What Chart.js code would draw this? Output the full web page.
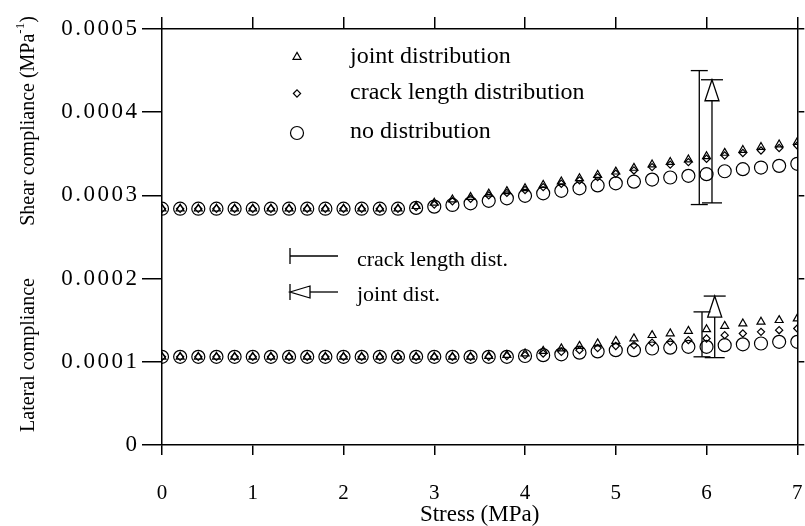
<!DOCTYPE html>
<html><head><meta charset="utf-8">
<script src="https://cdn.jsdelivr.net/npm/chart.js@4"></script>
<style>html,body{margin:0;padding:0;background:#fff}#wrap{width:805px;height:526px}</style>
</head><body><div id="wrap"><canvas id="c" width="805" height="526"></canvas></div>
<script>
// ---- data ----
const stress = [0,0.2,0.4,0.6,0.8,1,1.2,1.4,1.6,1.8,2,2.2,2.4,2.6,2.8,3,3.2,3.4,3.6,3.8,4,4.2,4.4,4.6,4.8,5,5.2,5.4,5.6,5.8,6,6.2,6.4,6.6,6.8,7];
const shearJoint = [0.000284,0.000284,0.000284,0.000284,0.000284,0.000284,0.000284,0.000284,0.000284,0.000284,0.000284,0.000284,0.000284,0.000284,
  0.000287,0.000291,0.000295,0.000298,0.000302,0.000305,0.0003085,0.0003125,0.0003165,0.0003205,0.0003245,0.0003285,0.000333,0.000337,0.00034,0.000343,0.000347,0.000351,0.0003545,0.000358,0.000361,0.000364];
const shearCrack = [0.000284,0.000284,0.000284,0.000284,0.000284,0.000284,0.000284,0.000284,0.000284,0.000284,0.000284,0.000284,0.000284,0.000284,
  0.000286,0.000289,0.000293,0.000296,0.0003,0.000303,0.0003065,0.00031,0.000314,0.000318,0.000322,0.000326,0.00033,0.000334,0.000337,0.00034,0.000344,0.000348,0.000351,0.000354,0.000357,0.00036];
const shearNone = [0.000284,0.000284,0.000284,0.000284,0.000284,0.000284,0.000284,0.000284,0.000284,0.000284,0.000284,0.000284,0.000284,0.000284,
  0.000285,0.0002865,0.0002885,0.0002905,0.0002935,0.0002965,0.0002995,0.0003025,0.0003055,0.0003085,0.000312,0.0003145,0.0003165,0.000319,0.0003215,0.0003235,0.0003255,0.000329,0.0003315,0.0003335,0.0003355,0.000338];
const latJoint = [0.000106,0.000106,0.000106,0.000106,0.000106,0.000106,0.000106,0.000106,0.000106,0.000106,0.000106,0.000106,0.000106,0.000106,0.000106,0.000106,0.000106,0.000106,
  0.000107,0.000108,0.00011,0.000113,0.000116,0.000119,0.000122,0.000125,0.000128,0.000132,0.000134,0.000137,0.000139,0.000143,0.000146,0.000148,0.00015,0.000152];
const latCrack = [0.000106,0.000106,0.000106,0.000106,0.000106,0.000106,0.000106,0.000106,0.000106,0.000106,0.000106,0.000106,0.000106,0.000106,0.000106,0.000106,0.000106,0.000106,0.000106,
  0.000107,0.000108,0.00011,0.000112,0.000114,0.0001165,0.000119,0.00012,0.000123,0.000124,0.000126,0.000128,0.000132,0.000134,0.000136,0.000138,0.00014];
const latNone = [0.000106,0.000106,0.000106,0.000106,0.000106,0.000106,0.000106,0.000106,0.000106,0.000106,0.000106,0.000106,0.000106,0.000106,0.000106,0.000106,0.000106,0.000106,0.000106,0.000106,
  0.000107,0.000108,0.000109,0.000111,0.0001125,0.000114,0.000114,0.000116,0.000117,0.000118,0.000118,0.00012,0.000121,0.000122,0.000124,0.000124];
const xTicks = [0,1,2,3,4,5,6,7];
const yTicks = [0,0.0001,0.0002,0.0003,0.0004,0.0005];
const yTickLabels = ['0','0.0001','0.0002','0.0003','0.0004','0.0005'];
const legendLabels = ['joint distribution','crack length distribution','no distribution'];
const rangeLabels = ['crack length dist.','joint dist.'];
const rangeX = [5.92, 6.06, 5.95, 6.09];
const rangeLow = [0.000289, 0.000291, 0.000106, 0.000105];
const rangeHigh = [0.000450, 0.000439, 0.000160, 0.000179];
const rangeKind = ['crack','joint','crack','joint'];
const yTitleShear = 'Shear compliance (MPa';
const yTitleLateral = 'Lateral compliance';
const xTitle = 'Stress (MPa)';

// ---- chart ----
const SERIF = "'Liberation Serif', 'Times New Roman', serif";
Chart.defaults.font.family = SERIF;
Chart.defaults.color = '#000';

function pts(arr){ return stress.map((x,i)=>({x:x, y:arr[i]})); }
function ds(label, arr, style, r){
  return {label, data: pts(arr), pointStyle: style, pointRadius: r, pointHoverRadius: r,
    borderColor:'#000', backgroundColor:'rgba(0,0,0,0)', pointBorderWidth:1.2, borderWidth:1.2, showLine:false};
}
const STYLES = {joint:['triangle',4.6], crack:['rectRot',3.6], none:['circle',6.5]};

function capH(ctx, x, y, half){ ctx.beginPath(); ctx.moveTo(x-half, y); ctx.lineTo(x+half, y); ctx.stroke(); }

const annot = {
  id:'annot',
  afterDatasetsDraw(chart){
    const ctx = chart.ctx, xs = chart.scales.x, ys = chart.scales.y;
    ctx.save();
    ctx.strokeStyle = '#000'; ctx.fillStyle = '#000'; ctx.lineWidth = 1.3;
    // range bars
    for (let i=0;i<rangeX.length;i++){
      const px = xs.getPixelForValue(rangeX[i]);
      const pt = ys.getPixelForValue(rangeHigh[i]);
      const pb = ys.getPixelForValue(rangeLow[i]);
      if (rangeKind[i]==='crack'){
        ctx.beginPath(); ctx.moveTo(px, pt); ctx.lineTo(px, pb); ctx.stroke();
        capH(ctx, px, pt, 8.5); capH(ctx, px, pb, 8.5);
      } else {
        capH(ctx, px, pt, 11); capH(ctx, px, pb, 10);
        ctx.beginPath(); ctx.moveTo(px, pt); ctx.lineTo(px-7, pt+21); ctx.lineTo(px+7, pt+21); ctx.closePath(); ctx.stroke();
        ctx.beginPath(); ctx.moveTo(px, pt+21); ctx.lineTo(px, pb); ctx.stroke();
      }
    }
    // upper legend
    const lx = 297, tx = 350;
    const ly = [57, 93.5, 133], tyb = [63, 99, 138];
    const order = ['joint','crack','none'];
    ctx.lineWidth = 1.2;
    ctx.fillStyle = 'rgba(0,0,0,0)';
    for (let i=0;i<3;i++){
      const st = STYLES[order[i]];
      Chart.helpers.drawPoint(ctx, {pointStyle: st[0], radius: st[1], borderWidth:1.2}, lx, ly[i]);
    }
    ctx.fillStyle = '#000';
    ctx.font = '24px ' + SERIF; ctx.textBaseline = 'alphabetic'; ctx.textAlign = 'left';
    for (let i=0;i<3;i++) ctx.fillText(legendLabels[i], tx, tyb[i]);
    // range legend
    ctx.lineWidth = 1.3;
    const sx = 290, ex = 338;
    const y1 = 256;
    ctx.beginPath(); ctx.moveTo(sx, y1-8); ctx.lineTo(sx, y1+8); ctx.stroke();
    ctx.beginPath(); ctx.moveTo(sx, y1); ctx.lineTo(ex, y1); ctx.stroke();
    const y2 = 292;
    ctx.beginPath(); ctx.moveTo(sx, y2-8); ctx.lineTo(sx, y2+8); ctx.stroke();
    ctx.beginPath(); ctx.moveTo(sx, y2); ctx.lineTo(sx+20, y2-6); ctx.lineTo(sx+20, y2+6); ctx.closePath(); ctx.stroke();
    ctx.beginPath(); ctx.moveTo(sx+20, y2); ctx.lineTo(ex, y2); ctx.stroke();
    ctx.font = '22px ' + SERIF;
    ctx.fillText(rangeLabels[0], 357, 266);
    ctx.fillText(rangeLabels[1], 357, 301);
    // y titles
    const f1 = '20px ' + SERIF, f2 = '13px ' + SERIF;
    ctx.save();
    ctx.translate(29, 121); ctx.rotate(-Math.PI/2);
    ctx.textBaseline = 'middle'; ctx.textAlign = 'left';
    ctx.font = f1; const w1 = ctx.measureText(yTitleShear).width; const w3 = ctx.measureText(')').width;
    ctx.font = f2; const w2 = ctx.measureText('-1').width;
    const x0 = -(w1+w2+w3)/2;
    ctx.font = f1; ctx.fillText(yTitleShear, x0, 0);
    ctx.font = f2; ctx.fillText('-1', x0+w1, -8);
    ctx.font = f1; ctx.fillText(')', x0+w1+w2, 0);
    ctx.restore();
    ctx.save();
    ctx.translate(29, 355); ctx.rotate(-Math.PI/2);
    ctx.textBaseline = 'middle'; ctx.textAlign = 'center'; ctx.font = f1;
    ctx.fillText(yTitleLateral, 0, 0);
    ctx.restore();
    ctx.restore();
  }
};

function spacedLabels(s){
  if (s._spaced) return;
  s._spaced = true;
  const orig = s.drawLabels;
  s.drawLabels = function(area){
    const c = this.ctx; c.save(); c.letterSpacing = '2.5px'; orig.call(this, area); c.restore();
  };
}

const axisLine = {display:true, color:'#000', width:1.5};
new Chart(document.getElementById('c'), {
  type:'scatter',
  data:{datasets:[
    ds('no distribution (shear)', shearNone, ...STYLES.none),
    ds('crack length distribution (shear)', shearCrack, ...STYLES.crack),
    ds('joint distribution (shear)', shearJoint, ...STYLES.joint),
    ds('no distribution (lateral)', latNone, ...STYLES.none),
    ds('crack length distribution (lateral)', latCrack, ...STYLES.crack),
    ds('joint distribution (lateral)', latJoint, ...STYLES.joint)
  ]},
  options:{
    responsive:false, animation:false, devicePixelRatio:1,
    layout:{padding:0},
    plugins:{legend:{display:false}, tooltip:{enabled:false}},
    scales:{
      x:{type:'linear', position:'bottom', min:0, max:7,
        afterBuildTicks: s => { s.ticks = xTicks.map(v=>({value:v})); },
        ticks:{font:{size:21, lineHeight:'72px'}, padding:2, color:'#000'},
        grid:{drawOnChartArea:false, drawTicks:true, tickLength:10, color:'#000', lineWidth:1.5},
        border:axisLine,
        title:{display:true, text:xTitle, font:{size:23, lineHeight:1}, padding:{top:0,bottom:0}, color:'#000'},
        afterFit: s => { s.height = 81; }},
      x2:{type:'linear', position:'top', min:0, max:7,
        afterBuildTicks: s => { s.ticks = xTicks.map(v=>({value:v})); },
        ticks:{display:false},
        grid:{drawOnChartArea:false, drawTicks:true, tickLength:12, color:'#000', lineWidth:1.5},
        border:axisLine,
        afterFit: s => { s.height = 29; }},
      y:{type:'linear', position:'left', min:0, max:0.0005,
        afterBuildTicks: s => { s.ticks = yTicks.map(v=>({value:v})); },
        ticks:{font:{size:23}, padding:2.5, color:'#000', callback:(v,i)=>yTickLabels[i]},
        grid:{drawOnChartArea:false, drawTicks:true, tickLength:20, color:'#000', lineWidth:1.5},
        border:axisLine,
        afterFit: s => { s.width = 162; spacedLabels(s); }},
      y2:{type:'linear', position:'right', min:0, max:0.0005,
        afterBuildTicks: s => { s.ticks = yTicks.map(v=>({value:v})); },
        ticks:{display:false},
        grid:{drawOnChartArea:false, drawTicks:true, tickLength:7, color:'#000', lineWidth:1.5},
        border:axisLine,
        afterFit: s => { s.width = 7; }}
    }
  },
  plugins:[annot]
});
</script></body></html>
